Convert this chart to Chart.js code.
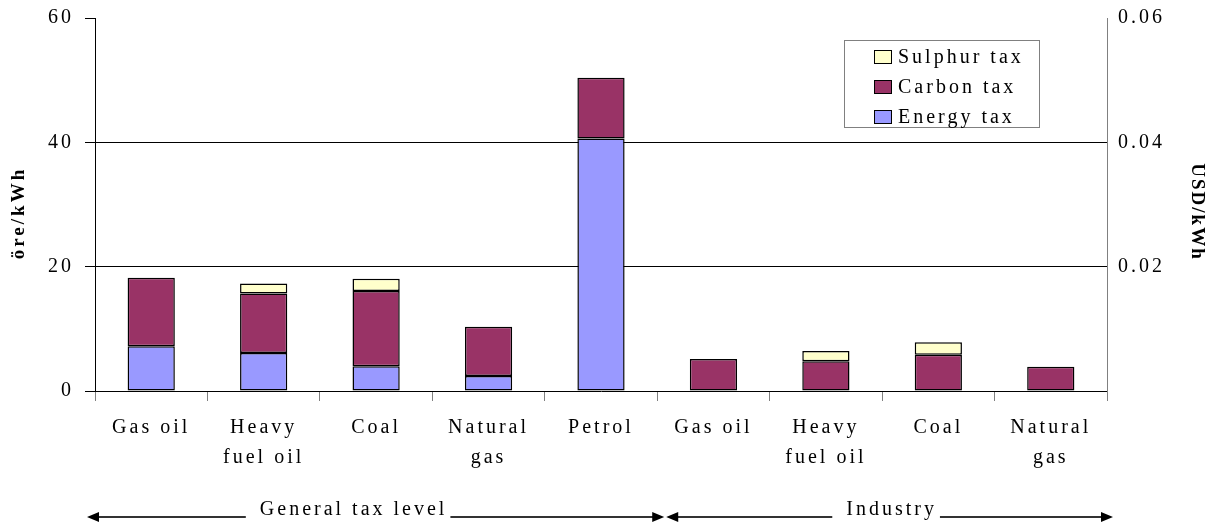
<!DOCTYPE html>
<html>
<head>
<meta charset="utf-8">
<script src="https://cdn.jsdelivr.net/npm/chart.js"></script>
<style>
  body { margin: 0; background: #fff; }
  #wrap { width: 1215px; height: 526px; position: relative; }
</style>
</head>
<body>
<div id="wrap"><canvas id="chart"></canvas></div>
<script>
// categories (two-line labels)
const categories = [
  ['Gas oil'], ['Heavy', 'fuel oil'], ['Coal'], ['Natural', 'gas'], ['Petrol'],
  ['Gas oil'], ['Heavy', 'fuel oil'], ['Coal'], ['Natural', 'gas']
];
// öre/kWh
const energyTax = [7.2, 6.1, 4.0, 2.4, 40.6, null, null, null, null];
const carbonTax = [11.0, 9.6, 12.1, 7.95, 9.8, 5.15, 4.8, 5.85, 3.9];
const sulphurTax = [null, 1.6, 1.95, null, null, null, 1.65, 2.0, null];

const seriesNames = ['Energy tax', 'Carbon tax', 'Sulphur tax'];
const seriesColors = ['#9999FF', '#993366', '#FFFFCC'];

const groupLabels = ['General tax level', 'Industry'];
const groupSplit = 5; // first 5 categories are the general tax level

const leftTicks = [0, 20, 40, 60];
const rightTicks = [0.02, 0.04, 0.06];

const FONT = "'Liberation Serif', 'Times New Roman', serif";

// letter spacing for all canvas text (the original is widely spaced)
const spacingPlugin = {
  id: 'spacing',
  beforeDraw(chart) {
    chart.ctx.letterSpacing = '3px';
  }
};

// legend box, axis titles and group arrows
const extrasPlugin = {
  id: 'extras',
  afterDraw(chart) {
    const ctx = chart.ctx;
    const area = chart.chartArea;
    ctx.save();

    // legend
    const lx = area.right - 263, ly = area.top + 22;
    ctx.letterSpacing = '0px';
    ctx.strokeStyle = '#808080';
    ctx.lineWidth = 1;
    ctx.strokeRect(lx + 0.5, ly + 0.5, 195, 87);
    ctx.font = '20px ' + FONT;
    ctx.textBaseline = 'middle';
    ctx.textAlign = 'left';
    const ds = chart.data.datasets.slice().reverse();
    ds.forEach((d, i) => {
      const cy = ly + 17 + i * 30;
      ctx.fillStyle = d.backgroundColor;
      ctx.fillRect(lx + 30, cy - 7, 18, 14);
      ctx.strokeStyle = '#000';
      ctx.strokeRect(lx + 30.5, cy - 6.5, 17, 13);
      ctx.letterSpacing = '3px';
      ctx.fillStyle = '#000';
      ctx.fillText(d.label, lx + 54, cy + 1);
      ctx.letterSpacing = '0px';
    });

    // axis titles
    ctx.font = 'bold 19px ' + FONT;
    ctx.letterSpacing = '3px';
    ctx.textAlign = 'center';
    ctx.textBaseline = 'middle';
    ctx.fillStyle = '#000';
    ctx.save();
    ctx.translate(19, 213);
    ctx.rotate(-Math.PI / 2);
    ctx.fillText('öre/kWh', 0, 0);
    ctx.restore();
    ctx.save();
    ctx.translate(1197, 212);
    ctx.rotate(Math.PI / 2);
    ctx.letterSpacing = '2px';
    ctx.fillText('USD/kWh', 0, 0);
    ctx.restore();

    // group arrows
    const x = chart.scales.x;
    const half = (x.getPixelForValue(1) - x.getPixelForValue(0)) / 2;
    const mid = x.getPixelForValue(groupSplit - 1) + half;
    const spans = [[area.left - 8, mid + 7, -22], [mid + 9, area.right + 6, 2]];
    const yLine = 517;
    ctx.font = '20px ' + FONT;
    ctx.letterSpacing = '3px';
    ctx.textAlign = 'left';
    ctx.textBaseline = 'alphabetic';
    ctx.strokeStyle = '#333';
    ctx.lineWidth = 2;
    spans.forEach((s, i) => {
      const [a, b, off] = s;
      const w = ctx.measureText(groupLabels[i]).width;
      const cx = (a + b) / 2 + off;
      const t0 = cx - w / 2, t1 = cx + w / 2;
      ctx.beginPath();
      ctx.moveTo(a + 10, yLine); ctx.lineTo(t0 - 14, yLine);
      ctx.moveTo(t1 + 3, yLine); ctx.lineTo(b - 10, yLine);
      ctx.stroke();
      ctx.beginPath();
      ctx.moveTo(a, yLine); ctx.lineTo(a + 12, yLine - 5); ctx.lineTo(a + 12, yLine + 5); ctx.closePath();
      ctx.moveTo(b, yLine); ctx.lineTo(b - 12, yLine - 5); ctx.lineTo(b - 12, yLine + 5); ctx.closePath();
      ctx.fillStyle = '#000';
      ctx.fill();
      ctx.fillText(groupLabels[i], t0, 515);
    });
    ctx.restore();
  }
};

const values = [energyTax, carbonTax, sulphurTax];

new Chart(document.getElementById('chart'), {
  type: 'bar',
  data: {
    labels: categories,
    datasets: values.map((v, i) => ({
      label: seriesNames[i],
      data: v,
      backgroundColor: seriesColors[i],
      borderColor: '#000',
      borderWidth: 1.5,
      borderSkipped: false,
      categoryPercentage: 1,
      barPercentage: 0.42,
      yAxisID: 'y'
    }))
  },
  options: {
    responsive: true,
    maintainAspectRatio: false,
    animation: false,
    layout: { padding: { top: 18, left: 0, right: 0, bottom: 0 } },
    plugins: {
      legend: { display: false },
      tooltip: { enabled: false }
    },
    scales: {
      x: {
        stacked: true,
        grid: { drawOnChartArea: false, tickColor: '#808080', tickLength: 10, offset: true },
        border: { color: '#000', width: 1 },
        ticks: {
          color: '#000',
          font: { family: FONT, size: 20, lineHeight: 1.5 },
          padding: 12,
          maxRotation: 0,
          autoSkip: false
        },
        afterFit(s) { s.height = 135; s.paddingLeft = 0; s.paddingRight = 0; }
      },
      y: {
        stacked: true,
        position: 'left',
        min: 0,
        max: 60,
        afterBuildTicks(s) { s.ticks = leftTicks.map(v => ({ value: v })); },
        grid: {
          color: c => (c.tick && (c.tick.value === 20 || c.tick.value === 40)) ? '#000' : 'rgba(0,0,0,0)',
          tickColor: '#000',
          tickLength: 10
        },
        border: { color: '#000', width: 1 },
        ticks: {
          color: '#000',
          font: { family: FONT, size: 20 },
          padding: 11
        },
        afterFit(s) { s.width = 95; s.paddingTop = 0; s.paddingBottom = 0; }
      },
      y2: {
        position: 'right',
        min: 0,
        max: 0.06,
        afterBuildTicks(s) { s.ticks = rightTicks.map(v => ({ value: v })); },
        grid: { display: false },
        border: { display: true, color: '#808080', width: 1 },
        ticks: {
          color: '#000',
          font: { family: FONT, size: 20 },
          padding: 3,
          callback: v => v.toFixed(2)
        },
        afterFit(s) { s.width = 108; s.paddingTop = 0; s.paddingBottom = 0; }
      }
    }
  },
  plugins: [spacingPlugin, extrasPlugin]
});
</script>
</body>
</html>
